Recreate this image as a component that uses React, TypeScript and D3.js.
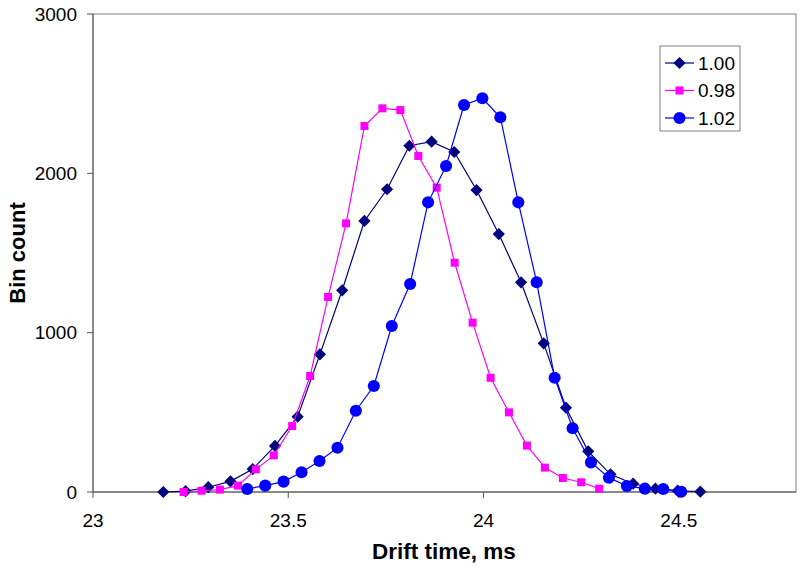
import React from "react";
import * as d3 from "d3";

// drift time (ms) and bin counts
const timeA = [23.180, 23.237, 23.295, 23.352, 23.409, 23.466, 23.524, 23.581, 23.638, 23.695, 23.753, 23.810, 23.867, 23.925, 23.982, 24.039, 24.096, 24.154, 24.211, 24.268, 24.325, 24.383, 24.440, 24.497, 24.555];
const countA = [0, 5, 30, 67, 144, 289, 473, 864, 1266, 1701, 1900, 2173, 2199, 2134, 1895, 1619, 1316, 933, 529, 255, 111, 52, 21, 8, 2];

const timeB = [23.232, 23.278, 23.325, 23.371, 23.417, 23.463, 23.510, 23.556, 23.602, 23.648, 23.695, 23.741, 23.787, 23.833, 23.880, 23.926, 23.972, 24.018, 24.065, 24.111, 24.157, 24.203, 24.250, 24.296];
const countB = [0, 8, 15, 40, 142, 230, 414, 728, 1224, 1686, 2297, 2408, 2397, 2109, 1910, 1439, 1063, 717, 500, 291, 153, 88, 61, 21];

const timeC = [23.395, 23.441, 23.488, 23.534, 23.580, 23.626, 23.673, 23.719, 23.765, 23.812, 23.858, 23.904, 23.950, 23.997, 24.043, 24.089, 24.136, 24.182, 24.228, 24.275, 24.321, 24.367, 24.413, 24.460, 24.506];
const countC = [19, 40, 65, 124, 195, 278, 510, 665, 1042, 1305, 1818, 2046, 2429, 2471, 2352, 1818, 1316, 717, 400, 186, 90, 38, 21, 19, 2];

const seriesNames = ["1.00", "0.98", "1.02"];
const seriesColors = ["#000080", "#ff00ff", "#0000ff"];
const xTicks = [23, 23.5, 24, 24.5];
const yTicks = [0, 1000, 2000, 3000];

const W = 800;
const H = 568;
const left = 93;
const right = 796;
const top = 14;
const bottom = 492;
const font = "'Liberation Sans', Arial, sans-serif";

const x = d3.scaleLinear().domain([23, 24.8]).range([left, right]);
const y = d3.scaleLinear().domain([0, 3000]).range([bottom, top]);

const series = [
  { name: seriesNames[0], color: seriesColors[0], shape: d3.symbolDiamond2, size: 95, pts: timeA.map((t, i) => [t, countA[i]]) },
  { name: seriesNames[1], color: seriesColors[1], shape: d3.symbolSquare, size: 64, pts: timeB.map((t, i) => [t, countB[i]]) },
  { name: seriesNames[2], color: seriesColors[2], shape: d3.symbolCircle, size: 115, pts: timeC.map((t, i) => [t, countC[i]]) },
];

const line = d3
  .line<number[]>()
  .x((d) => x(d[0]))
  .y((d) => y(d[1]));

export default function App() {
  return (
    <svg
      width={W}
      height={H}
      style={{ position: "absolute", left: 0, top: 0, background: "#fff" }}
      fontFamily={font}
    >
      {/* plot frame */}
      <rect x={left} y={top} width={right - left} height={bottom - top} fill="none" stroke="#808080" strokeWidth={1} />
      <line x1={left} x2={left} y1={top} y2={bottom} stroke="#555" />
      <line x1={left} x2={right} y1={bottom} y2={bottom} stroke="#555" />

      {/* y axis */}
      {yTicks.map((t) => (
        <g key={"y" + t}>
          <line x1={left - 6} x2={left} y1={y(t)} y2={y(t)} stroke="#555" />
          <text x={left - 16} y={y(t)} dy="0.35em" textAnchor="end" fontSize={19}>
            {t}
          </text>
        </g>
      ))}

      {/* x axis */}
      {xTicks.map((t) => (
        <g key={"x" + t}>
          <line x1={x(t)} x2={x(t)} y1={bottom} y2={bottom + 6} stroke="#555" />
          <text x={x(t)} y={bottom + 35} textAnchor="middle" fontSize={19}>
            {t}
          </text>
        </g>
      ))}

      <text x={444} y={559} textAnchor="middle" fontSize={22.5} fontWeight="bold">
        Drift time, ms
      </text>
      <text
        transform={`translate(25, ${(top + bottom) / 2}) rotate(-90)`}
        textAnchor="middle"
        fontSize={22}
        fontWeight="bold"
      >
        Bin count
      </text>

      {/* series */}
      {series.map((s) => (
        <g key={s.name}>
          <path d={line(s.pts) || ""} fill="none" stroke={s.color} strokeWidth={1.2} />
          {s.pts.map((p, i) => (
            <path
              key={i}
              transform={`translate(${x(p[0])}, ${y(p[1])})`}
              d={d3.symbol().type(s.shape).size(s.size)() || ""}
              fill={s.color}
            />
          ))}
        </g>
      ))}

      {/* legend */}
      <g>
        <rect x={660} y={46} width={80} height={85} fill="#fff" stroke="#808080" />
        {series.map((s, i) => {
          const ly = 63 + i * 27.5;
          return (
            <g key={"lg" + s.name}>
              <line x1={665} x2={694} y1={ly} y2={ly} stroke={s.color} strokeWidth={1.2} />
              <path
                transform={`translate(679.5, ${ly})`}
                d={d3.symbol().type(s.shape).size(s.size)() || ""}
                fill={s.color}
              />
              <text x={698} y={ly} dy="0.35em" fontSize={19}>
                {s.name}
              </text>
            </g>
          );
        })}
      </g>
    </svg>
  );
}
